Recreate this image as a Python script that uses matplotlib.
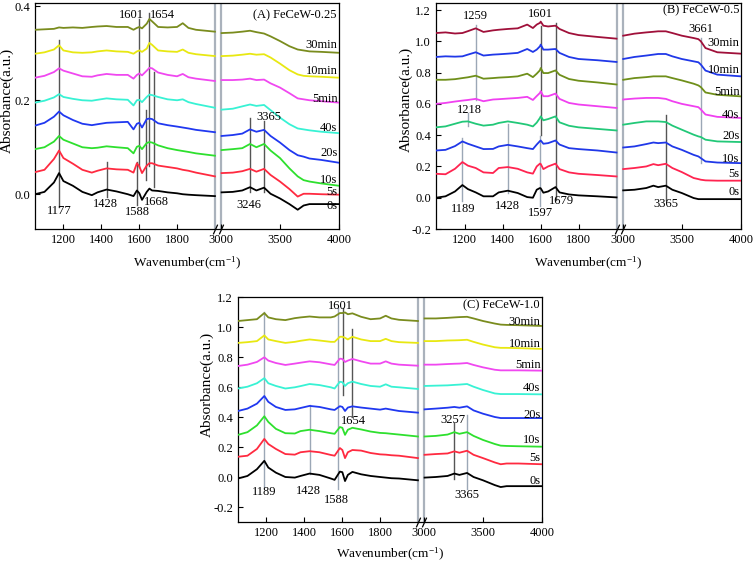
import numpy as np
import matplotlib
matplotlib.use('Agg')
import matplotlib.pyplot as plt
from matplotlib.ticker import FixedLocator, FormatStrFormatter, NullLocator
import matplotlib.transforms as mtransforms

plt.rcParams['font.family'] = ['Liberation Serif', 'DejaVu Serif']
plt.rcParams['mathtext.fontset'] = 'stix'

TIMES = ['0s', '5s', '10s', '20s', '40s', '5min', '10min', '30min']
XTICKS = [1200, 1400, 1600, 1800, 3000, 3500, 4000]

# ---------------- Panel A : FeCeW-0.25 ----------------
A_XL = [1050, 1100, 1150, 1177, 1200, 1250, 1300, 1350, 1380, 1428, 1480, 1540, 1570,
        1588, 1601, 1615, 1640, 1654, 1668, 1700, 1750, 1800, 1830, 1860, 1900, 2000]
A_XR = [3005, 3100, 3180, 3246, 3300, 3365, 3420, 3500, 3580, 3650, 3700, 3750, 3850, 4000]
A_OFF = [0.0, 0.05, 0.10, 0.15, 0.20, 0.25, 0.30, 0.35]

a_l_0s = [0.0, 0.005, 0.025, 0.045, 0.028, 0.018, 0.005, -0.002, 0.004, 0.010, 0.006, 0.0, -0.004,
          0.008, 0.002, -0.012, 0.005, 0.012, 0.008, 0.007, 0.004, 0.002, 0.0, -0.001, -0.002, -0.004]
a_l_5s = [-0.003, 0.002, 0.025, 0.043, 0.027, 0.015, 0.002, -0.004, 0.0, 0.005, 0.003, 0.002, -0.004,
          0.016, 0.009, -0.005, 0.011, 0.016, 0.016, 0.011, 0.008, 0.005, 0.002, 0.0, -0.004, -0.012]
a_l_10s = [-0.004, 0.0, 0.012, 0.024, 0.016, 0.008, 0.0, -0.002, -0.001, 0.002, 0.0, -0.002, -0.013,
           0.001, 0.003, -0.004, 0.009, 0.011, 0.010, 0.004, -0.002, -0.006, -0.008, -0.010, -0.013, -0.018]
a_l_20s = [-0.004, 0.002, 0.015, 0.026, 0.018, 0.008, 0.0, -0.003, -0.001, 0.002, 0.003, 0.004, -0.012,
           0.0, 0.002, -0.008, 0.010, 0.011, 0.010, 0.001, -0.003, -0.006, -0.008, -0.010, -0.013, -0.018]
a_l_40s = [-0.005, -0.001, 0.006, 0.013, 0.007, 0.003, 0.0, -0.001, 0.001, 0.004, 0.002, 0.001, -0.011,
           0.0, 0.001, -0.004, 0.007, 0.012, 0.011, 0.007, 0.002, 0.0, 0.002, -0.004, -0.008, -0.016]
a_l_5min = [-0.002, 0.002, 0.010, 0.018, 0.013, 0.007, 0.001, 0.0, 0.003, 0.006, 0.004, 0.004, -0.004,
            0.004, 0.007, 0.003, 0.013, 0.019, 0.018, 0.009, 0.004, 0.001, 0.006, -0.001, -0.004, -0.009]
a_l_10min = [-0.001, 0.002, 0.008, 0.017, 0.006, 0.002, 0.001, 0.002, 0.004, 0.006, 0.004, 0.003, -0.001,
             0.004, 0.006, 0.003, 0.010, 0.022, 0.018, 0.006, 0.004, 0.003, 0.008, 0.001, -0.002, -0.006]
a_l_30min = [0.0, 0.001, 0.002, 0.005, 0.004, 0.005, 0.004, 0.006, 0.007, 0.008, 0.006, 0.006, 0.0,
             0.004, 0.006, 0.003, 0.013, 0.023, 0.018, 0.006, 0.005, 0.006, 0.014, 0.004, 0.0, -0.004]

a_r_0s = [0.004, 0.005, 0.008, 0.015, 0.008, 0.014, 0.001, -0.009, -0.021, -0.033, -0.024, -0.021, -0.021, -0.021]
a_r_5s = [-0.005, -0.004, -0.001, 0.004, -0.002, 0.004, -0.009, -0.023, -0.039, -0.055, -0.049, -0.049, -0.050, -0.051]
a_r_10s = [-0.006, -0.004, -0.002, 0.007, 0.0, 0.007, -0.007, -0.023, -0.045, -0.062, -0.070, -0.073, -0.077, -0.082]
a_r_20s = [-0.026, -0.024, -0.021, -0.012, -0.017, -0.013, -0.026, -0.040, -0.056, -0.067, -0.070, -0.074, -0.077, -0.083]
a_r_40s = [-0.020, -0.018, -0.013, -0.009, -0.012, -0.010, -0.021, -0.037, -0.051, -0.060, -0.062, -0.064, -0.067, -0.070]
a_r_5min = [-0.007, -0.007, -0.006, -0.004, -0.007, -0.006, -0.014, -0.023, -0.035, -0.046, -0.048, -0.050, -0.052, -0.055]
a_r_10min = [-0.006, -0.005, -0.003, -0.001, -0.003, -0.002, -0.009, -0.022, -0.036, -0.045, -0.048, -0.049, -0.050, -0.052]
a_r_30min = [-0.007, -0.006, -0.004, -0.002, -0.005, -0.008, -0.014, -0.024, -0.035, -0.042, -0.044, -0.046, -0.047, -0.049]

A_COLORS = ['#000000', '#ff2a40', '#2ee02e', '#2038f0', '#38f2d4', '#f048f0', '#e8e812', '#7a8c1e']
A_TLAB_DY = [-2, 3, 5.5, 9.5, 5, 4, 6.4, 7.5]   # time-label lift above curve end (px)

A_PEAK_X = [1177, 1428, 1588, 1601, 1636, 1652, 1680, 3246, 3365]
A_PEAK_LO = [-0.027, -0.006, -0.022, 0.058, 0.030, 0.060, 0.016, 0.005, 0.005]
A_PEAK_HI = [0.328, 0.068, 0.068, 0.374, 0.180, 0.385, 0.260, 0.162, 0.155]
A_PEAK_DARK = [1, 1, 1, 1, 1, 1, 1, 1, 1]
A_LAB_T = ['1177', '1428', '1588', '1668', '1601', '1654', '3246', '3365']
A_LAB_X = [1177, 1420, 1593, 1690, 1561, 1722, 3233, 3402]
A_LAB_Y = [-0.035, -0.021, -0.038, -0.016, 0.381, 0.381, -0.023, 0.164]

# ---------------- Panel B : FeCeW-0.5 ----------------
B_XL = [1050, 1100, 1150, 1189, 1218, 1259, 1300, 1350, 1380, 1428, 1480, 1530,
        1560, 1580, 1597, 1601, 1615, 1640, 1679, 1700, 1750, 1800, 1900, 2000]
B_XR = [3005, 3100, 3200, 3260, 3300, 3365, 3420, 3500, 3600, 3640, 3661, 3700, 3800, 4000]
B_OFF = [0.0, 0.15, 0.30, 0.45, 0.60, 0.75, 0.90, 1.05]

b_l_0s = [0.0, 0.009, 0.040, 0.081, 0.055, 0.034, 0.009, 0.009, 0.034, 0.045, 0.030, 0.004,
          0.0, 0.051, 0.062, 0.060, 0.032, 0.040, 0.068, 0.034, 0.021, 0.015, 0.009, 0.002]
b_l_5s = [0.003, 0.0, 0.035, 0.078, 0.055, 0.040, 0.012, 0.008, 0.040, 0.046, 0.035, 0.012,
          0.004, 0.050, 0.068, 0.066, 0.033, 0.050, 0.068, 0.033, 0.012, 0.003, -0.005, -0.014]
b_l_10s = [0.002, 0.006, 0.030, 0.060, 0.045, 0.028, 0.011, 0.012, 0.028, 0.038, 0.028, 0.017,
           0.011, 0.040, 0.062, 0.066, 0.045, 0.049, 0.066, 0.040, 0.017, 0.011, 0.002, -0.011]
b_l_20s = [0.0, 0.006, 0.023, 0.036, 0.038, 0.023, 0.011, 0.017, 0.028, 0.038, 0.028, 0.017,
           0.006, 0.030, 0.060, 0.070, 0.045, 0.053, 0.070, 0.032, 0.010, 0.0, -0.010, -0.020]
b_l_40s = [0.0, 0.006, 0.015, 0.021, 0.025, 0.032, 0.017, 0.028, 0.030, 0.034, 0.038, 0.045,
           0.025, 0.050, 0.070, 0.081, 0.049, 0.049, 0.066, 0.032, 0.006, -0.004, -0.015, -0.026]
b_l_5min = [0.004, 0.004, 0.008, 0.015, 0.020, 0.030, 0.011, 0.015, 0.018, 0.021, 0.026, 0.043,
            0.021, 0.043, 0.065, 0.079, 0.047, 0.047, 0.064, 0.036, 0.009, -0.002, -0.013, -0.026]
b_l_10min = [0.0, 0.004, 0.002, 0.004, 0.015, 0.030, 0.009, 0.015, 0.017, 0.021, 0.026, 0.051,
             0.032, 0.047, 0.068, 0.079, 0.047, 0.047, 0.051, 0.026, 0.0, -0.013, -0.021, -0.032]
b_l_30min = [0.003, 0.007, 0.0, 0.003, 0.015, 0.033, 0.010, 0.020, 0.024, 0.029, 0.033, 0.057,
             0.035, 0.057, 0.068, 0.076, 0.050, 0.045, 0.050, 0.029, 0.003, -0.010, -0.022, -0.033]

b_r_0s = [0.047, 0.051, 0.062, 0.077, 0.068, 0.077, 0.051, 0.030, -0.002, -0.009, -0.009, -0.009, -0.009, -0.009]
b_r_5s = [0.033, 0.040, 0.050, 0.065, 0.058, 0.067, 0.040, 0.014, -0.024, -0.031, -0.035, -0.039, -0.041, -0.041]
b_r_10s = [0.021, 0.028, 0.043, 0.053, 0.049, 0.053, 0.028, 0.006, -0.026, -0.036, -0.047, -0.068, -0.075, -0.079]
b_r_20s = [0.017, 0.028, 0.038, 0.038, 0.038, 0.034, 0.011, -0.015, -0.047, -0.058, -0.062, -0.079, -0.090, -0.094]
b_r_40s = [0.028, 0.034, 0.038, 0.038, 0.038, 0.032, 0.017, 0.0, -0.015, -0.021, -0.036, -0.068, -0.083, -0.090]
b_r_5min = [0.004, 0.015, 0.021, 0.026, 0.026, 0.026, 0.015, 0.0, -0.021, -0.032, -0.043, -0.077, -0.092, -0.102]
b_r_10min = [-0.013, 0.0, 0.009, 0.015, 0.019, 0.019, 0.004, -0.013, -0.028, -0.034, -0.049, -0.087, -0.113, -0.124]
b_r_30min = [-0.014, -0.001, 0.007, 0.011, 0.014, 0.014, 0.003, -0.014, -0.029, -0.036, -0.050, -0.093, -0.120, -0.129]

B_COLORS = ['#000000', '#ff2450', '#2038e8', '#22c878', '#f040f0', '#6f8f1a', '#2038e8', '#a0103a']
B_TLAB_DY = [6.7, 7, 4, 5.7, 3.3, 4.3, 6.7, 11]

B_PEAK_X = [1189, 1218, 1259, 1428, 1597, 1601, 1679, 3365, 3661]
B_PEAK_LO = [-0.023, 0.46, 0.627, 0.03, -0.055, 0.40, -0.013, -0.013, 0.222]
B_PEAK_HI = [0.38, 0.54, 1.107, 0.473, 0.392, 1.096, 1.117, 0.531, 1.02]
B_PEAK_DARK = [0, 0, 0, 0, 0, 1, 1, 1, 0]
B_LAB_T = ['1259', '1601', '1218', '1189', '1428', '1597', '1679', '3365', '3661']
B_LAB_X = [1259, 1601, 1227, 1192, 1425, 1601, 1709, 3365, 3661]
B_LAB_Y = [1.16, 1.177, 0.559, -0.072, -0.055, -0.098, -0.023, -0.038, 1.079]

# ---------------- Panel C : FeCeW-1.0 ----------------
C_XL = [1050, 1100, 1150, 1189, 1210, 1250, 1300, 1350, 1380, 1428, 1480, 1540, 1560,
        1588, 1601, 1615, 1630, 1654, 1700, 1750, 1800, 1830, 1860, 1900, 2000]
C_XR = [3005, 3100, 3200, 3257, 3300, 3365, 3420, 3500, 3600, 3650, 3700, 3800, 4000]
C_OFF = [-0.01, 0.14, 0.29, 0.44, 0.59, 0.74, 0.89, 1.04]

c_l_0s = [0.0, 0.017, 0.062, 0.118, 0.073, 0.039, 0.010, 0.006, 0.017, 0.033, 0.024, 0.0, -0.009,
          0.046, 0.042, -0.017, 0.024, 0.044, 0.028, 0.017, 0.010, 0.006, 0.002, 0.0, -0.012]
c_l_5s = [-0.005, 0.002, 0.047, 0.114, 0.080, 0.047, 0.013, 0.009, 0.025, 0.032, 0.025, 0.007, 0.002,
          0.053, 0.040, -0.014, 0.025, 0.040, 0.036, 0.020, 0.011, 0.009, 0.005, 0.002, -0.014]
c_l_10s = [-0.009, 0.009, 0.054, 0.115, 0.077, 0.031, 0.002, 0.0, 0.016, 0.025, 0.016, 0.002, -0.002,
           0.043, 0.038, -0.009, 0.025, 0.038, 0.027, 0.013, 0.004, 0.002, -0.002, -0.007, -0.020]
c_l_20s = [0.0, 0.016, 0.049, 0.100, 0.061, 0.027, 0.007, 0.011, 0.020, 0.034, 0.027, 0.011, 0.007,
           0.032, 0.027, 0.0, 0.023, 0.031, 0.023, 0.016, 0.009, 0.016, 0.009, 0.0, -0.011]
c_l_40s = [0.0, 0.012, 0.035, 0.069, 0.035, 0.017, 0.0, 0.008, 0.016, 0.030, 0.023, 0.008, 0.0,
           0.045, 0.042, 0.017, 0.035, 0.046, 0.030, 0.017, 0.012, 0.028, 0.012, 0.008, -0.003]
c_l_5min = [0.0, 0.009, 0.027, 0.058, 0.036, 0.020, 0.007, 0.016, 0.022, 0.031, 0.025, 0.011, 0.007,
            0.049, 0.047, 0.027, 0.036, 0.047, 0.031, 0.016, 0.016, 0.031, 0.016, 0.009, 0.002]
c_l_10min = [0.004, 0.009, 0.016, 0.054, 0.027, 0.016, 0.004, 0.011, 0.018, 0.027, 0.020, 0.011, 0.011,
             0.045, 0.045, 0.038, 0.027, 0.045, 0.027, 0.016, 0.016, 0.031, 0.016, 0.009, 0.004]
c_l_30min = [0.0, 0.006, 0.012, 0.053, 0.024, 0.012, 0.006, 0.019, 0.024, 0.030, 0.024, 0.024, 0.030,
             0.053, 0.053, 0.057, 0.045, 0.051, 0.028, 0.012, 0.017, 0.035, 0.017, 0.008, 0.0]

c_r_0s = [0.006, 0.010, 0.017, 0.033, 0.024, 0.037, 0.010, -0.012, -0.044, -0.057, -0.051, -0.051, -0.051]
c_r_5s = [0.008, 0.013, 0.017, 0.031, 0.022, 0.035, 0.008, -0.014, -0.043, -0.055, -0.050, -0.050, -0.055]
c_r_10s = [-0.020, -0.016, -0.007, 0.009, -0.002, 0.009, -0.016, -0.043, -0.070, -0.081, -0.083, -0.085, -0.088]
c_r_20s = [0.011, 0.016, 0.022, 0.027, 0.022, 0.031, 0.004, -0.018, -0.040, -0.047, -0.047, -0.047, -0.047]
c_r_40s = [0.017, 0.019, 0.021, 0.024, 0.026, 0.030, 0.012, -0.010, -0.033, -0.037, -0.037, -0.037, -0.039]
c_r_5min = [0.009, 0.009, 0.013, 0.015, 0.016, 0.020, 0.007, -0.009, -0.025, -0.029, -0.029, -0.029, -0.031]
c_r_10min = [0.016, 0.016, 0.020, 0.021, 0.022, 0.025, 0.011, -0.007, -0.025, -0.029, -0.029, -0.031, -0.036]
c_r_30min = [0.017, 0.017, 0.021, 0.024, 0.026, 0.028, 0.017, 0.0, -0.017, -0.024, -0.026, -0.028, -0.033]

C_COLORS = A_COLORS
C_TLAB_DY = [5, 6.3, 6.3, 3, 6, 5.3, 5.3, 4]

C_PEAK_X = [1189, 1428, 1580, 1606, 1654, 3257, 3365]
C_PEAK_LO = [-0.067, 0.018, -0.083, 0.546, 0.40, -0.011, -0.083]
C_PEAK_HI = [1.097, 0.479, 1.124, 1.124, 0.984, 0.36, 0.411]
C_PEAK_DARK = [0, 0, 0, 1, 1, 1, 0]
C_LAB_T = ['1601', '1654', '1189', '1428', '1588', '3257', '3365']
C_LAB_X = [1590, 1657, 1186, 1424, 1572, 3248, 3360]
C_LAB_Y = [1.142, 0.373, -0.099, -0.094, -0.151, 0.378, -0.121]

# ---------------- broken wavenumber axis ----------------
GAP = 32.0     # width of the break in left-segment units
RSC = 0.623    # compression of the 3000-4000 segment


def fwd(x):
    x = np.asarray(x, dtype=float)
    return np.where(x <= 2000, x,
                    np.where(x <= 3000, 2000 + (x - 2000) * GAP / 1000.0,
                             2000 + GAP + (x - 3000) * RSC))


def inv(u):
    u = np.asarray(u, dtype=float)
    return np.where(u <= 2000, u,
                    np.where(u <= 2000 + GAP, 2000 + (u - 2000) * 1000.0 / GAP,
                             3000 + (u - 2000 - GAP) / RSC))


fig = plt.figure(figsize=(7.56, 5.63), dpi=100)
FS = 9
DARK = '#555555'
LIGHT = '#9ba7b6'
BREAK = '#aab2bc'
SLASH = [(-0.45, -1.0), (0.45, 1.0)]


def panel(rect, xl, xr, lefts, rights, offsets, colors, tdy, ylim, yticks,
          px, plo, phi, pdark, lt, lx, ly, title, title_xy, ylab_xy, xlab_y):
    ax = fig.add_axes(rect)
    ax.set_xscale('function', functions=(fwd, inv))
    ax.set_xlim(1050, 4000)
    ax.set_ylim(*ylim)
    for sp in ax.spines.values():
        sp.set_linewidth(0.9)
    ax.axvline(2000, color=BREAK, lw=1.6, zorder=1)
    ax.axvline(3000, color=BREAK, lw=1.6, zorder=1)
    for x, lo, hi, d in zip(px, plo, phi, pdark):
        ax.plot([x, x], [lo, hi], color=DARK if d else LIGHT, lw=1.0, zorder=2)
    for name, yl, yr, off, c, dy in zip(TIMES, lefts, rights, offsets, colors, tdy):
        ax.plot(xl, np.asarray(yl) + off, color=c, lw=1.3, zorder=3)
        ax.plot(xr, np.asarray(yr) + off, color=c, lw=1.3, zorder=3)
        ax.annotate(name, xy=(4000, yr[-1] + off), xytext=(-1, dy * 0.72),
                    textcoords='offset points', ha='right', va='center',
                    fontsize=FS, zorder=5)
    for t, x, y in zip(lt, lx, ly):
        ax.text(x, y, t, ha='center', va='center', fontsize=FS, zorder=5)
    ax.text(title_xy[0], title_xy[1], title, transform=ax.transAxes,
            ha='right', va='center', fontsize=FS)
    ax.xaxis.set_major_locator(FixedLocator(XTICKS))
    ax.xaxis.set_minor_locator(NullLocator())
    ax.yaxis.set_major_locator(FixedLocator(yticks))
    ax.yaxis.set_minor_locator(NullLocator())
    ax.yaxis.set_major_formatter(FormatStrFormatter('%.1f'))
    ax.xaxis.set_major_formatter(FormatStrFormatter('%d'))
    ax.tick_params(direction='in', length=3.5, width=0.8, labelsize=FS, pad=3.5)
    trans = mtransforms.blended_transform_factory(ax.transData, ax.transAxes)
    ax.plot([2000, 3000], [0, 0], transform=trans, linestyle='none',
            marker=SLASH, markersize=7, markeredgewidth=0.9, color='black',
            clip_on=False, zorder=6)
    ax.text(ylab_xy[0], ylab_xy[1], 'Absorbance(a.u.)', transform=ax.transAxes,
            rotation=90, ha='center', va='center', fontsize=11)
    ax.text(0.5, xlab_y, 'Wavenumber(cm$^{\\mathregular{-1}}$)', transform=ax.transAxes,
            ha='center', va='center', fontsize=9.5)
    return ax


W, H = 756.0, 563.0


def rect(l, r, t, b):
    return [l / W, 1 - b / H, (r - l) / W, (b - t) / H]


panel(rect(35, 339, 3, 229), A_XL, A_XR,
      [a_l_0s, a_l_5s, a_l_10s, a_l_20s, a_l_40s, a_l_5min, a_l_10min, a_l_30min],
      [a_r_0s, a_r_5s, a_r_10s, a_r_20s, a_r_40s, a_r_5min, a_r_10min, a_r_30min],
      A_OFF, A_COLORS, A_TLAB_DY, (-0.074, 0.407), [0.0, 0.2, 0.4],
      A_PEAK_X, A_PEAK_LO, A_PEAK_HI, A_PEAK_DARK, A_LAB_T, A_LAB_X, A_LAB_Y,
      '(A) FeCeW-0.25', (0.992, 0.947), (-0.092, 0.57), -0.150)

panel(rect(436, 741, 3, 229), B_XL, B_XR,
      [b_l_0s, b_l_5s, b_l_10s, b_l_20s, b_l_40s, b_l_5min, b_l_10min, b_l_30min],
      [b_r_0s, b_r_5s, b_r_10s, b_r_20s, b_r_40s, b_r_5min, b_r_10min, b_r_30min],
      B_OFF, B_COLORS, B_TLAB_DY, (-0.2, 1.245), [-0.2, 0.0, 0.2, 0.4, 0.6, 0.8, 1.0, 1.2],
      B_PEAK_X, B_PEAK_LO, B_PEAK_HI, B_PEAK_DARK, B_LAB_T, B_LAB_X, B_LAB_Y,
      '(B) FeCeW-0.5', (0.996, 0.969), (-0.098, 0.575), -0.150)

panel(rect(238, 542, 297, 522), C_XL, C_XR,
      [c_l_0s, c_l_5s, c_l_10s, c_l_20s, c_l_40s, c_l_5min, c_l_10min, c_l_30min],
      [c_r_0s, c_r_5s, c_r_10s, c_r_20s, c_r_40s, c_r_5min, c_r_10min, c_r_30min],
      C_OFF, C_COLORS, C_TLAB_DY, (-0.3, 1.2), [-0.2, 0.0, 0.2, 0.4, 0.6, 0.8, 1.0, 1.2],
      C_PEAK_X, C_PEAK_LO, C_PEAK_HI, C_PEAK_DARK, C_LAB_T, C_LAB_X, C_LAB_Y,
      '(C) FeCeW-1.0', (0.993, 0.964), (-0.102, 0.61), -0.142)

fig.savefig('out.png', dpi=100)
